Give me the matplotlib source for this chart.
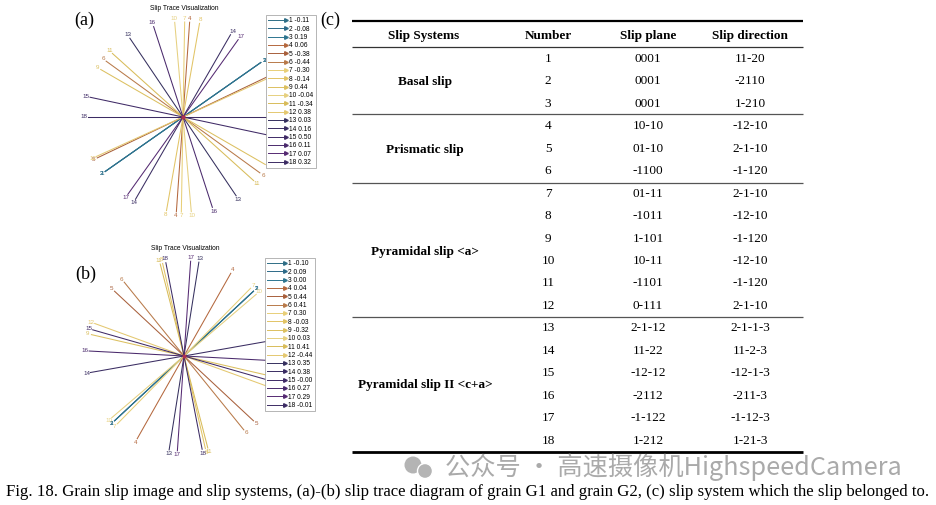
import numpy as np
import matplotlib.pyplot as plt
from matplotlib.lines import Line2D
from matplotlib.legend_handler import HandlerBase
from matplotlib.patches import Circle

W, H = 936, 505

# Table data
systems = ['Basal slip', 'Prismatic slip', 'Pyramidal slip <a>', 'Pyramidal slip II <c+a>']
numbers = list(range(1, 19))
planes = ['0001', '0001', '0001', '10-10', '01-10', '-1100',
          '01-11', '-1011', '1-101', '10-11', '-1101', '0-111',
          '2-1-12', '11-22', '-12-12', '-2112', '-1-122', '1-212']
directions = ['11-20', '-2110', '1-210', '-12-10', '2-1-10', '-1-120',
              '2-1-10', '-12-10', '-1-120', '-12-10', '-1-120', '2-1-10',
              '2-1-1-3', '11-2-3', '-12-1-3', '-211-3', '-1-12-3', '1-21-3']

# Schmid factors shown in the legends
sf_a = [-0.11, -0.08, 0.19, 0.06, -0.38, -0.44, -0.30, -0.14, 0.44,
        -0.04, -0.34, 0.38, 0.03, 0.16, 0.50, 0.11, 0.07, 0.32]
sf_b = [-0.10, 0.09, 0.00, 0.04, 0.44, 0.41, 0.30, -0.03, -0.32,
        0.03, 0.41, -0.44, 0.35, 0.38, -0.0, 0.27, 0.29, -0.01]

# trace angles (deg)
angles_a = [35, 35, 35, 86, 25.5, 144, 89, 80, 150, 95, 138, 24.5,
            124, 60, 168, 108, 54.5, 180]
angles_b = [43, 43, 43, 60.5, 137, 129, 45.5, 103, 167, 40.5, 104.5, 160,
            81, 10, 164, 177, 86, 101]

colors = ['#2f6e86', '#2d6a88', '#2e7590',
          '#b4683e', '#a8603c', '#b87a4a',
          '#e8cf78', '#e2c466', '#dcc060', '#e6d080', '#d8bc5a', '#e4c870',
          '#35305e', '#3a2d62', '#3f2a66', '#4a2a6c', '#552a72', '#3c2c64']


class ArrowHandler(HandlerBase):
    # legend entry drawn as a short arrow: line plus head at right end
    def create_artists(self, legend, orig_handle, xdescent, ydescent,
                       width, height, fontsize, trans):
        c = orig_handle.get_color()
        y = height / 2 - ydescent
        line = Line2D([-xdescent, width - xdescent], [y, y], color=c, lw=0.7,
                      transform=trans)
        head = Line2D([width - xdescent - 1], [y], marker='>', ms=2.6, color=c,
                      lw=0, transform=trans)
        return [line, head]


def px_rect(x0, y0, x1, y1):
    return [x0 / W, 1 - y1 / H, (x1 - x0) / W, (y1 - y0) / H]


fig = plt.figure(figsize=(W / 100, H / 100), dpi=100)
plt.rcParams['font.family'] = ['Liberation Serif', 'DejaVu Sans']

over = fig.add_axes([0, 0, 1, 1])
over.set_xlim(0, W)
over.set_ylim(H, 0)
over.axis('off')


def trace_panel(cx, cy, angles, sf, legend_xy, title_y):
    x0, x1 = cx - 123, cx + 137
    y0, y1 = cy - 102, cy + 108
    ax = fig.add_axes(px_rect(x0, y0, x1, y1))
    ax.set_xlim(-(cx - x0) / 100, (x1 - cx) / 100)
    ax.set_ylim(-(y1 - cy) / 100, (cy - y0) / 100)
    ax.axis('off')
    r = 0.95
    for i, ang in enumerate(angles):
        t = np.deg2rad(ang)
        dx, dy = np.cos(t), np.sin(t)
        ax.plot([-r * dx, r * dx], [-r * dy, r * dy], color=colors[i], lw=0.75)
        for s in (1, -1):
            ax.text(s * 0.99 * dx, s * 0.99 * dy, str(numbers[i]), color=colors[i],
                    fontsize=4.5, family='Liberation Sans', ha='center', va='center')
    ax.plot(0, 0, 'o', color='#b03050', ms=2)
    handles = [Line2D([], [], color=colors[i]) for i in range(18)]
    labels = [f'{numbers[i]} {sf[i]:.2f}' for i in range(18)]
    leg = fig.legend(handles, labels, loc='upper left',
                     bbox_to_anchor=(legend_xy[0] / W, 1 - legend_xy[1] / H),
                     bbox_transform=fig.transFigure,
                     handler_map={Line2D: ArrowHandler()},
                     prop={'family': 'Liberation Sans', 'size': 4.8},
                     handlelength=2.8, handletextpad=0.3, labelspacing=0.2,
                     borderpad=0.35, borderaxespad=0, fancybox=False,
                     framealpha=1, edgecolor='#999999')
    leg.get_frame().set_linewidth(0.5)
    over.text(cx + 1, title_y, 'Slip Trace Visualization', fontsize=4.8,
              family='Liberation Sans', ha='center', va='center')
    return ax


trace_panel(183, 117, angles_a, sf_a, (266, 15), 9)
trace_panel(184, 356, angles_b, sf_b, (265, 258), 249)

over.text(84, 20, '(a)', fontsize=13, ha='center', va='center')
over.text(86, 274, '(b)', fontsize=13, ha='center', va='center')
over.text(330, 20, '(c)', fontsize=13, ha='center', va='center')

# table
tx0, tx1 = 352, 803
col_x = [424, 548, 648, 750]
headers = ['Slip Systems', 'Number', 'Slip plane', 'Slip direction']
for x, h in zip(col_x, headers):
    over.text(x, 36, h, fontsize=9.5, weight='bold', ha='center', va='center')
row_y0, row_dy = 59, 22.45
for i in range(18):
    y = row_y0 + i * row_dy
    over.text(col_x[1], y, str(numbers[i]), fontsize=9.5, ha='center', va='center')
    over.text(col_x[2], y, planes[i], fontsize=9.5, ha='center', va='center')
    over.text(col_x[3], y, directions[i], fontsize=9.5, ha='center', va='center')
group_y = [82, 150, 252, 385]
for name, y in zip(systems, group_y):
    over.text(425, y, name, fontsize=9.5, weight='bold', ha='center', va='center')

over.plot([tx0, tx1], [21, 21], color='black', lw=1.6, solid_capstyle='butt')
over.plot([tx0, tx1], [47, 47], color='#333333', lw=0.9, solid_capstyle='butt')
for y in (114, 183, 317):
    over.plot([tx0, tx1], [y, y], color='#555555', lw=0.9, solid_capstyle='butt')
over.plot([tx0, tx1], [452, 452], color='black', lw=2.0, solid_capstyle='butt')

# watermark icon, watermark and caption
over.add_patch(Circle((413, 465), 8.5, color='#b4b4b4', lw=0))
over.add_patch(Circle((425, 471), 7.5, color='#b4b4b4', ec='white', lw=1))
over.text(445, 467, '公众号 · 高速摄像机HighspeedCamera', fontsize=18.2,
          family=['Noto Sans CJK SC', 'DejaVu Sans'], color='#aaaaaa',
          ha='left', va='center')
over.text(468, 492, 'Fig. 18. Grain slip image and slip systems, (a)-(b) slip trace diagram '
          'of grain G1 and grain G2, (c) slip system which the slip belonged to.',
          fontsize=12.1, ha='center', va='center')

fig.savefig('out.png', dpi=100)
